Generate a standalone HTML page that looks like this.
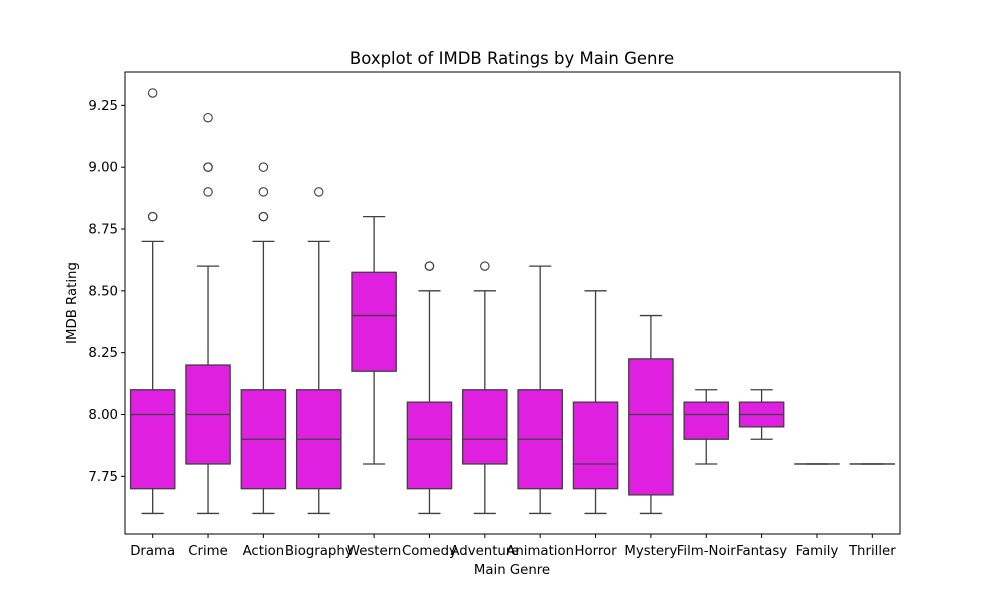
<!DOCTYPE html>
<html><head><meta charset="utf-8"><style>body{margin:0;background:#fff}svg{display:block;font-family:"DejaVu Sans","Liberation Sans",sans-serif}</style></head>
<body>
<svg id="chart" width="1000" height="600"></svg>
<script>
const categories=["Drama","Crime","Action","Biography","Western","Comedy","Adventure","Animation","Horror","Mystery","Film-Noir","Fantasy","Family","Thriller"];
const whiskerLow=[7.6,7.6,7.6,7.6,7.8,7.6,7.6,7.6,7.6,7.6,7.8,7.9,7.8,7.8];
const q1Values=[7.7,7.8,7.7,7.7,8.175,7.7,7.8,7.7,7.7,7.675,7.9,7.95,7.8,7.8];
const medianValues=[8.0,8.0,7.9,7.9,8.4,7.9,7.9,7.9,7.8,8.0,8.0,8.0,7.8,7.8];
const q3Values=[8.1,8.2,8.1,8.1,8.575,8.05,8.1,8.1,8.05,8.225,8.05,8.05,7.8,7.8];
const whiskerHigh=[8.7,8.6,8.7,8.7,8.8,8.5,8.5,8.6,8.5,8.4,8.1,8.1,7.8,7.8];
const outliers=[[8.8,8.8,9.3],[8.9,9.0,9.0,9.2],[8.8,8.8,8.9,9.0],[8.9],[],[8.6,8.6],[8.6],[],[],[],[],[],[],[]];
const yTicks=[7.75,8.0,8.25,8.5,8.75,9.0,9.25];
const yTickLabels=["7.75","8.00","8.25","8.50","8.75","9.00","9.25"];

const NS="http://www.w3.org/2000/svg",svg=document.getElementById('chart');
const L=125,R=900,T=72,B=534;
const step=(R-L)/categories.length;
const xPos=i=>L+step*(i+0.5);
const yPos=v=>414.5-(v-8)*247.33;
function mk(tag,attrs,parent){const e=document.createElementNS(NS,tag);for(const k in attrs)e.setAttribute(k,attrs[k]);(parent||svg).appendChild(e);return e;}
const C="#3f3f3f",F="#e020e0";
let t=mk('text',{x:512,y:64,'text-anchor':'middle','font-size':16.5,fill:'#000'});t.textContent="Boxplot of IMDB Ratings by Main Genre";


categories.forEach((c,i)=>{
  const g=mk('g',{});
  
  
  const x=xPos(i),w=step*0.8;
  mk('line',{x1:x,x2:x,y1:yPos(whiskerLow[i]),y2:yPos(q1Values[i]),stroke:C,'stroke-width':1.3},g);
  mk('line',{x1:x,x2:x,y1:yPos(q3Values[i]),y2:yPos(whiskerHigh[i]),stroke:C,'stroke-width':1.3},g);
  mk('line',{x1:x-w/4,x2:x+w/4,y1:yPos(whiskerLow[i]),y2:yPos(whiskerLow[i]),stroke:C,'stroke-width':1.3},g);
  mk('line',{x1:x-w/4,x2:x+w/4,y1:yPos(whiskerHigh[i]),y2:yPos(whiskerHigh[i]),stroke:C,'stroke-width':1.3},g);
  mk('rect',{x:x-w/2,y:yPos(q3Values[i]),width:w,height:Math.max(0.01,yPos(q1Values[i])-yPos(q3Values[i])),fill:F,stroke:C,'stroke-width':1.3},g);
  mk('line',{x1:x-w/2,x2:x+w/2,y1:yPos(medianValues[i]),y2:yPos(medianValues[i]),stroke:C,'stroke-width':1.3},g);
  outliers[i].forEach(v=>{const o=mk('circle',{cx:x,cy:yPos(v),r:4.2,fill:'none',stroke:C,'stroke-width':1.1},g);
    
    });
  const tl=mk('text',{x:x,y:555,'text-anchor':'middle','font-size':13.3},svg);tl.textContent=c;
  
  
  mk('line',{x1:x,x2:x,y1:B,y2:B+4,stroke:'#000'});
});
yTicks.forEach((v,i)=>{
  const y=yPos(v);mk('line',{x1:L-4,x2:L,y1:y,y2:y,stroke:'#000'});
  const tl=mk('text',{x:L-7,y:y+4.5,'text-anchor':'end','font-size':13.3});tl.textContent=yTickLabels[i];
  
  
});
const frame=mk('rect',{x:L,y:T,width:R-L,height:B-T,fill:'none',stroke:'#000','stroke-width':1});


t=mk('text',{x:512,y:574,'text-anchor':'middle','font-size':13.3});t.textContent="Main Genre";


t=mk('text',{x:76,y:303,'text-anchor':'middle','font-size':13.3,transform:'rotate(-90 76 303)'});t.textContent="IMDB Rating";


</script>
</body></html>
